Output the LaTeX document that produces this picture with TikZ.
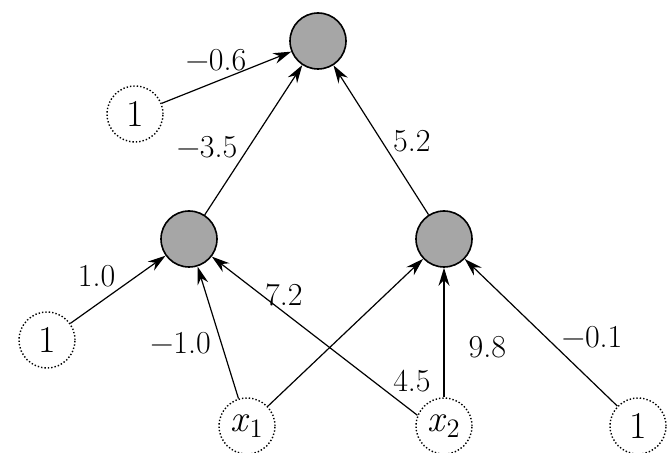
\documentclass[tikz,border=0pt]{standalone}
\usepackage{fontspec}
\usetikzlibrary{arrows.meta,positioning}

\begin{document}
\begin{tikzpicture}[
  on grid,
  unit/.style={draw,circle,line width=0.8pt,fill=black!35,minimum size=28pt,inner sep=0pt},
  bias/.style={draw,circle,densely dotted,line width=0.7pt,minimum size=28pt,inner sep=0pt,font=\fontsize{19}{22}\selectfont},
  wt/.style={inner sep=1pt,font=\fontsize{16}{19}\selectfont},
  >={Stealth[length=9pt,width=5.5pt]}]
  \useasboundingbox (0,0) rectangle (333.5pt,-226.5pt);
  \node[unit] (O) at (159pt,-20.5pt) {};
  \node[bias] (B0) [below left=36.5pt and 91.5pt of O] {1};
  \node[unit] (H1) [below left=99pt and 64.5pt of O] {};
  \node[unit] (H2) [below right=99pt and 63pt of O] {};
  \node[bias] (B1) [below left=50.5pt and 71pt of H1] {1};
  \node[bias] (X1) [below right=93.5pt and 29pt of H1] {\textit{x}\textsubscript{1}};
  \node[bias] (X2) [below=93.5pt of H2] {\textit{x}\textsubscript{2}};
  \node[bias] (B2) [right=97pt of X2] {1};
  \draw[->,semithick] (B0) -- node[wt,pos=0.42,above=4pt] {−0.6} (O);
  \draw[->,semithick] (H1) -- node[wt,pos=0.36,above left] {−3.5} (O);
  \draw[->,semithick] (H2) -- node[wt,pos=0.4,above right] {5.2} (O);
  \draw[->,semithick] (B1) -- node[wt,pos=0.5,above left] {1.0} (H1);
  \draw[->,semithick] (X1) -- node[wt,pos=0.42,left=4pt] {−1.0} (H1);
  \draw[->,semithick] (X2.158) -- node[wt,pos=0.65,above=2pt] {7.2}
    node[wt,pos=0.13,above right] {4.5} (H1);
  \draw[->,semithick] (X1) -- (H2);
  \draw[->,semithick] (X2) -- node[wt,pos=0.39,right=11pt] {9.8} (H2);
  \draw[->,semithick] (B2) -- node[wt,pos=0.38,above right] {−0.1} (H2);
\end{tikzpicture}
\end{document}
